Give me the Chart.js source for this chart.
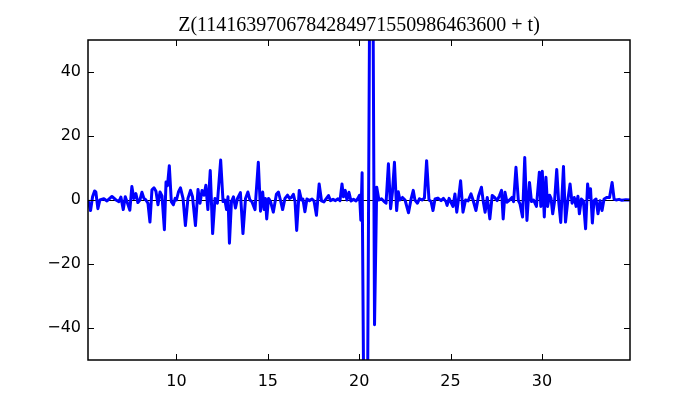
<!DOCTYPE html>
<html>
<head>
<meta charset="utf-8">
<title>Z(t)</title>
<script src="https://cdn.jsdelivr.net/npm/chart.js"></script>
<style>
  html, body { margin: 0; padding: 0; background: #fff; }
</style>
</head>
<body>
<canvas id="myChart" width="700" height="400"></canvas>
<script>
const titleText = 'Z(1141639706784284971550986463600 + t)';
const T_MIN = 5.16;
const T_MAX = 34.82;
const Z_MIN = -50;
const Z_MAX = 50;
const xTicks = [10, 15, 20, 25, 30];
const yTicks = [-40, -20, 0, 20, 40];

// t values (extrema)
const tValues = [
  5.16, 5.30, 5.41, 5.52, 5.59, 5.70, 5.81, 6.03, 6.20, 6.47, 6.69, 6.85, 6.96, 7.09, 7.20, 7.31, 7.45, 7.56, 7.67, 7.78,
  7.89, 8.00, 8.11, 8.22, 8.33, 8.44, 8.55, 8.66, 8.77, 8.88, 8.99, 9.10, 9.21, 9.34, 9.43, 9.51, 9.61, 9.72, 9.83, 9.93,
  10.00, 10.11, 10.22, 10.36, 10.49, 10.63, 10.77, 10.88, 11.04, 11.18, 11.29, 11.40, 11.51, 11.61, 11.72, 11.85, 11.98, 12.11, 12.24, 12.42,
  12.55, 12.65, 12.74, 12.82, 12.90, 13.01, 13.12, 13.23, 13.34, 13.50, 13.64, 13.78, 13.91, 14.02, 14.13, 14.30, 14.48, 14.60, 14.72, 14.80,
  14.87, 14.94, 15.04, 15.15, 15.30, 15.47, 15.58, 15.69, 15.81, 15.94, 16.08, 16.19, 16.29, 16.40, 16.49, 16.58, 16.72, 16.84, 16.92, 17.03,
  17.14, 17.28, 17.42, 17.53, 17.66, 17.81, 17.94, 18.07, 18.18, 18.32, 18.43, 18.57, 18.70, 18.84, 18.95, 19.06, 19.14, 19.24, 19.33, 19.44,
  19.55, 19.69, 19.83, 19.93, 20.02, 20.09, 20.16, 20.37, 20.67, 20.84, 20.96,
  21.08, 21.22, 21.39, 21.47, 21.60, 21.72, 21.82, 21.93, 22.05, 22.14, 22.23, 22.37, 22.51, 22.70, 22.84, 22.96, 23.05, 23.19, 23.30, 23.44,
  23.57, 23.69, 23.82, 23.93, 24.04, 24.15, 24.31, 24.48, 24.61, 24.75,
  24.81, 24.92, 25.03, 25.13, 25.24, 25.34, 25.44, 25.55, 25.68, 25.82, 25.96, 26.12, 26.23, 26.39, 26.53, 26.69, 26.79, 26.89, 27.01, 27.15,
  27.28, 27.41, 27.55, 27.68, 27.79, 27.88, 27.98, 28.09, 28.23, 28.36, 28.45, 28.58, 28.71, 28.80, 28.94, 29.06, 29.18, 29.32, 29.43, 29.54,
  29.70, 29.86, 29.94, 30.02, 30.13, 30.22, 30.31, 30.42, 30.50, 30.59, 30.69, 30.81, 30.91, 31.03, 31.18, 31.29, 31.43, 31.54, 31.65, 31.77,
  31.87, 31.97, 32.05, 32.16, 32.27, 32.39, 32.50, 32.58, 32.66, 32.76, 32.85, 32.96, 33.07, 33.18, 33.29, 33.40, 33.56, 33.70, 33.84, 33.95,
  34.06, 34.22, 34.38, 34.60, 34.82
];

// Z values at those t
const zValues = [
  0, -3.3, 1, 2.8, 2.5, -2.7, 0, 0.4, -0.3, 1.1, 0, -0.5, 0.9, -3, 1, -0.8, -3.2, 4.2, 0.5, 2,
  -0.8, 0, 2.4, 0.5, 0, -1, -6.9, 3.2, 3.8, 2.7, -1.5, 2.5, 1.3, -9.3, 5.6, 4.5, 10.7, -0.5, -1.5, 0.5,
  0, 2.5, 3.8, 0.5, -8, 0.5, 3, 1, -8, 3.3, -1, 3, 1.5, 4.6, -3, 9.2, -10.5, 0.5, -1, 12.5,
  -0.5, 0, -3, 1, -13.5, -0.5, 1, -2.5, 0.5, 2.3, -10.5, 0.5, 2.5, 0, -0.5, -3, 11.8, -3.5, 2.5, -3,
  0.5, -5.9, 0.5, -0.5, -3.8, 1.8, 2.5, 0, -3, 0.5, 1.5, 0.5, 0.8, 1.8, -0.5, -9.5, 3, 0, 0.3, -3.7,
  0.3, -0.2, 0.3, -0.3, -4.8, 5, -0.3, -0.6, 0.3, 1.4, -0.2, 0.2, -0.2, 0.4, -0.2, 5, 1, 3, 0, 2.4,
  -0.3, 0.2, -0.3, 0.5, 1.5, -6.3, 8.5, -160, 170, -39, 4,
  0, 0.4, -0.6, -1, 11.3, -2.7, 2.5, 11.8, -3.3, 2.6, 0, 0.8, 0, -4, 0.3, 3, 0, -1, 0.4, 0,
  0.6, 12.3, 0, -0.4, -3.3, 0.3, 0.6, -0.2, 0.5, -0.5,
  -1.7, 0.5, -0.8, -2, 1.9, -3.8, 0.5, 6, -3.8, 0, -0.3, 1.9, 0, -3.3, 1.2, 4, -0.5, -3.8, 0.8, -5.9,
  1.4, 0.8, -0.2, 1.4, 3, -5.9, 2.4, -0.7, 0, 0.8, -0.5, 10.2, -0.2, -1.2, -5.3, 13.3, -6.4, 5.5, -0.5, 0,
  -2, 8.7, -2, 9, -5.3, 7.1, -2, 1.5, 0.5, -4.3, -0.5, 9.5, 0, -7, 10.5, -6.9, 0.5, 5, -1, 0.8,
  -2, 1.2, -4.3, 0.3, -0.3, -9, 5, 0.8, 3.5, -7.2, -0.2, 0.3, -4.3, -0.2, -3.3, 0.3, 0.8, 0.8, 5.5, 0.3,
  0, 0.2, -0.1, 0.1, 0
];

const minusSign = (v) => v < 0 ? '\u2212' + Math.abs(v) : String(v);

// cadre, ticks vers l'intérieur et ligne du zéro
const framePlugin = {
  id: 'frame',
  beforeDatasetsDraw(chart) {
    const {ctx, chartArea: a, scales: {y}} = chart;
    const y0 = Math.round(y.getPixelForValue(0)) + 0.5;
    ctx.save();
    ctx.strokeStyle = '#000';
    ctx.lineWidth = 1;
    ctx.beginPath();
    ctx.moveTo(a.left, y0);
    ctx.lineTo(a.right, y0);
    ctx.stroke();
    ctx.restore();
  },
  afterDatasetsDraw(chart) {
    const {ctx, chartArea: a, scales: {x, y}} = chart;
    const len = 6;
    ctx.save();
    ctx.strokeStyle = '#000';
    ctx.lineWidth = 1;
    ctx.beginPath();
    x.ticks.forEach(t => {
      const px = Math.round(x.getPixelForValue(t.value)) + 0.5;
      ctx.moveTo(px, a.bottom); ctx.lineTo(px, a.bottom - len);
      ctx.moveTo(px, a.top); ctx.lineTo(px, a.top + len);
    });
    y.ticks.forEach(t => {
      const py = Math.round(y.getPixelForValue(t.value)) + 0.5;
      ctx.moveTo(a.left, py); ctx.lineTo(a.left + len, py);
      ctx.moveTo(a.right, py); ctx.lineTo(a.right - len, py);
    });
    ctx.stroke();
    ctx.lineWidth = 1.5;
    ctx.strokeRect(a.left, a.top, a.right - a.left, a.bottom - a.top);
    ctx.restore();
  }
};

const ctxt = document.getElementById('myChart').getContext('2d');

const myChart = new Chart(ctxt, {
  type: 'line',
  data: {
    datasets: [{
      data: tValues.map((t, i) => ({x: t, y: zValues[i]})),
      borderColor: '#0000ff',
      borderWidth: 3,
      borderJoinStyle: 'round',
      pointRadius: 0,
      tension: 0,
      clip: 0
    }]
  },
  options: {
    responsive: false,
    animation: false,
    devicePixelRatio: 1,
    layout: {padding: {left: 0, right: 70, top: 0, bottom: 0}},
    plugins: {
      legend: {display: false},
      tooltip: {enabled: false},
      title: {
        display: true,
        text: titleText,
        fullSize: false,
        color: '#000',
        font: {family: 'Liberation Serif', size: 20, weight: 'normal'},
        padding: {top: 14, bottom: 2}
      }
    },
    scales: {
      x: {
        type: 'linear',
        min: T_MIN,
        max: T_MAX,
        afterBuildTicks: (s) => { s.ticks = xTicks.map(v => ({value: v})); },
        afterFit: (s) => { s.height = 40; },
        grid: {display: false, drawTicks: false},
        border: {display: false},
        ticks: {
          autoSkip: false,
          maxRotation: 0,
          padding: 12,
          color: '#000',
          font: {family: 'DejaVu Sans', size: 16},
          callback: (v) => minusSign(v)
        }
      },
      y: {
        min: Z_MIN,
        max: Z_MAX,
        afterBuildTicks: (s) => { s.ticks = yTicks.map(v => ({value: v})); },
        afterFit: (s) => { s.width = 88; },
        grid: {display: false, drawTicks: false},
        border: {display: false},
        ticks: {
          autoSkip: false,
          padding: 7,
          color: '#000',
          font: {family: 'DejaVu Sans', size: 16},
          callback: (v) => minusSign(v)
        }
      }
    }
  },
  plugins: [framePlugin]
});
</script>
</body>
</html>
